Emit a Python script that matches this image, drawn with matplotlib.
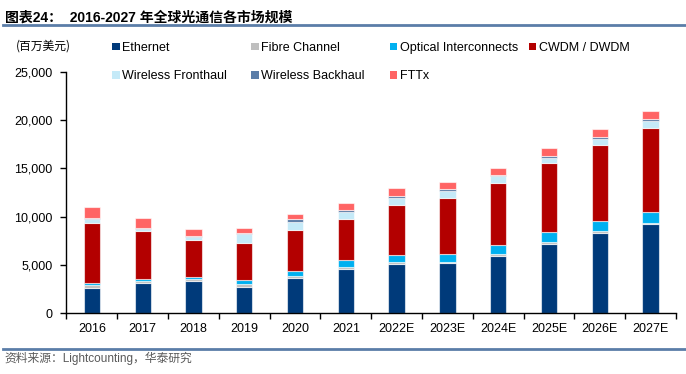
import numpy as np
import matplotlib
matplotlib.use("Agg")
import matplotlib.pyplot as plt
from matplotlib.patches import Patch
from matplotlib.lines import Line2D

plt.rcParams['font.family'] = ['Liberation Sans', 'Noto Sans CJK SC', 'DejaVu Sans']

# categories and series (million USD)
years = ['2016', '2017', '2018', '2019', '2020', '2021',
         '2022E', '2023E', '2024E', '2025E', '2026E', '2027E']
ethernet = [2620, 3110, 3350, 2730, 3660, 4600, 5050, 5160, 5910, 7160, 8270, 9200]
fibre_channel = [250, 240, 180, 280, 180, 170, 210, 160, 210, 210, 200, 170]
optical = [210, 140, 240, 380, 550, 700, 760, 830, 930, 1000, 1040, 1110]
cwdm = [6290, 5050, 3830, 3840, 4250, 4310, 5150, 5810, 6470, 7160, 7950, 8710]
fronthaul = [350, 210, 280, 930, 830, 670, 760, 700, 660, 580, 590, 760]
backhaul = [130, 100, 140, 140, 250, 200, 170, 170, 140, 210, 240, 210]
fttx = [1180, 1040, 730, 550, 580, 730, 900, 760, 720, 800, 800, 830]

series = [
    ('Ethernet', ethernet, '#003A7A'),
    ('Fibre Channel', fibre_channel, '#BFBFBF'),
    ('Optical Interconnects', optical, '#00B0F0'),
    ('CWDM / DWDM', cwdm, '#B30000'),
    ('Wireless Fronthaul', fronthaul, '#C5EAF8'),
    ('Wireless Backhaul', backhaul, '#5B7DA8'),
    ('FTTx', fttx, '#FF6464'),
]

fig = plt.figure(figsize=(6.86, 3.74), dpi=100)
ax = fig.add_axes([0.0969, 0.1631, 0.9854 - 0.0969, 0.8075 - 0.1631])

x = np.arange(len(years))
bottom = np.zeros(len(years))
handles = {}
for name, vals, color in series:
    ax.bar(x, vals, width=0.32, bottom=bottom, color=color,
           edgecolor=(1, 1, 1, 0.6), linewidth=0.8, zorder=2)
    bottom += np.array(vals)
    handles[name] = Patch(facecolor=color, edgecolor='none')

ax.set_xlim(-0.5, len(years) - 0.5)
ax.set_ylim(0, 25000)
ax.set_yticks(np.arange(0, 25001, 5000))
ax.set_yticklabels(['{:,}'.format(v) for v in range(0, 25001, 5000)], fontsize=9)
ax.set_xticks(x)
ax.set_xticklabels(years, fontsize=9)
ax.set_xticks(np.arange(-0.5, len(years), 1), minor=True)
ax.tick_params(axis='x', which='major', length=0, pad=7)
ax.tick_params(axis='x', which='minor', length=4, width=1, direction='out')
ax.tick_params(axis='y', length=4, width=1, direction='out', pad=6)
for s in ['top', 'right']:
    ax.spines[s].set_visible(False)
for s in ['left', 'bottom']:
    ax.spines[s].set_linewidth(1)
    ax.spines[s].set_color('black')

# legend laid out as equal-width columns
columns = [['Ethernet', 'Wireless Fronthaul'],
           ['Fibre Channel', 'Wireless Backhaul'],
           ['Optical Interconnects', 'FTTx'],
           ['CWDM / DWDM']]
col_x = [0.1633, 0.3659, 0.5685, 0.7711]
for names, cx in zip(columns, col_x):
    fig.legend([handles[n] for n in names], names, loc='upper left',
               bbox_to_anchor=(cx, 0.888), frameon=False, fontsize=9,
               handlelength=0.6, handleheight=0.6, handletextpad=0.2,
               labelspacing=1.3, borderpad=0, borderaxespad=0)

# title, unit and source
fig.text(0.007, 0.953, '图表24：  2016-2027 年全球光通信各市场规模', fontsize=10,
         fontweight='bold', ha='left', va='center',
         family=['Liberation Sans', 'Noto Sans CJK SC'])
fig.add_artist(Line2D([0.004, 0.998], [0.933, 0.933], color='#5B7DA8', linewidth=2))
fig.text(0.023, 0.877, '(百万美元)', fontsize=8.5, ha='left', va='center',
         family=['Noto Sans CJK SC'])
fig.add_artist(Line2D([0.004, 0.998], [0.068, 0.068], color='#5B7DA8', linewidth=2))
fig.text(0.007, 0.042, '资料来源：Lightcounting，华泰研究', fontsize=8.5, color='#595959',
         ha='left', va='center', family=['Liberation Sans', 'Noto Sans CJK SC'])

fig.savefig('out.png', dpi=100)
